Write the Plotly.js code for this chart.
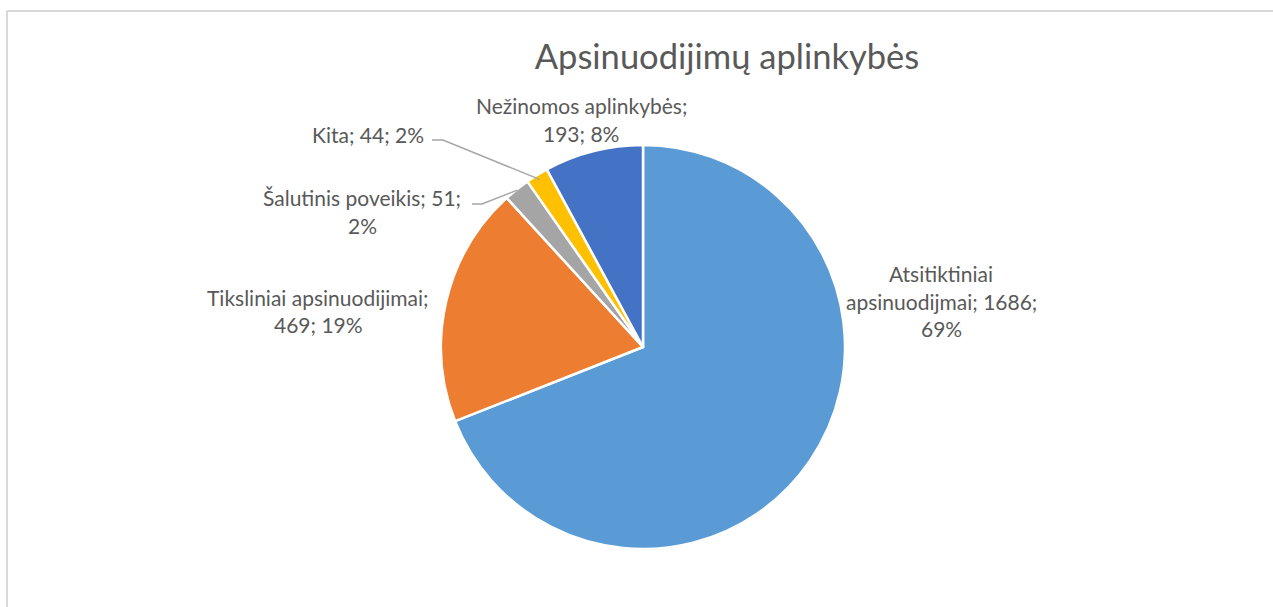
<!DOCTYPE html>
<html><head><meta charset="utf-8">
<script src="https://cdn.plot.ly/plotly-3.0.1.min.js"></script>
<style>html,body{margin:0;padding:0;background:#fff;} #chart{width:1273px;height:607px;}</style>
</head><body><div id="chart"></div>
<script>
// ---- data ----
const categories = ["Atsitiktiniai apsinuodijmai", "Tiksliniai apsinuodijimai", "Šalutinis poveikis", "Kita", "Nežinomos aplinkybės"];
const values = [1686, 469, 51, 44, 193];
const colors = ["#5B9BD5", "#ED7D31", "#A5A5A5", "#FFC000", "#4472C4"];
const titleText = "Apsinuodijimų aplinkybės";
const lineBreaks = [[0, 2], [1], [2], [], [1]]; // wrap after these word indices

// ---- layout helpers ----
const W = 1273, H = 607;
const px = x => x / W, py = y => 1 - y / H;
const cx = 643, cy = 347, R = 202;
const labelPos = [[941, 273], [318, 297], [362, 197], [368, 135], [581, 105]];
const lineGap = 28;
const textColor = "#595959";
const fontFam = "Lato, 'Open Sans', sans-serif";

const total = values.reduce((a, b) => a + b, 0);
const annotations = [];
categories.forEach((c, i) => {
  const pct = Math.round(values[i] / total * 100);
  const words = `${c}; ${values[i]}; ${pct}%`.split(" ");
  const lines = [];
  let cur = [];
  words.forEach((w, k) => {
    cur.push(w);
    if (lineBreaks[i].includes(k)) { lines.push(cur.join(" ")); cur = []; }
  });
  if (cur.length) lines.push(cur.join(" "));
  lines.forEach((ln, j) => {
    annotations.push({
      text: ln, showarrow: false, xref: "paper", yref: "paper",
      x: px(labelPos[i][0]), y: py(labelPos[i][1] + j * lineGap),
      xanchor: "center", yanchor: "middle",
      font: {family: fontFam, size: 21, color: textColor}
    });
  });
});

// leader lines for small slices
let cum = 0;
const mids = values.map(v => { const m = (cum + v / 2) / total; cum += v; return m; });
function edgePt(i, r) {
  const a = mids[i] * 2 * Math.PI;
  return [cx + r * Math.sin(a), cy - r * Math.cos(a)];
}
const leaders = [
  {i: 3, start: [432, 140], elbow: [443, 140], r: R - 5},
  {i: 2, start: [472, 204], elbow: [482, 204], r: R - 1}
];
const shapes = leaders.map(L => {
  const e = edgePt(L.i, L.r);
  return {
    type: "path", xref: "paper", yref: "paper",
    path: `M ${px(L.start[0])} ${py(L.start[1])} L ${px(L.elbow[0])} ${py(L.elbow[1])} L ${px(e[0])} ${py(e[1])}`,
    line: {color: "#A6A6A6", width: 1.5}
  };
});
// chart frame
shapes.push({type: "line", xref: "paper", yref: "paper", x0: px(7), x1: px(7), y0: py(11), y1: py(H + 5), line: {color: "#D9D9D9", width: 2}});
shapes.push({type: "line", xref: "paper", yref: "paper", x0: px(7), x1: px(W + 5), y0: py(11), y1: py(11), line: {color: "#D9D9D9", width: 2}});

const trace = {
  type: "pie",
  labels: categories,
  values: values,
  sort: false,
  direction: "clockwise",
  rotation: 0,
  textinfo: "none",
  textposition: "none",
  hoverinfo: "label+value+percent",
  marker: {colors: colors, line: {color: "#FFFFFF", width: 2.5}},
  domain: {x: [px(cx - R), px(cx + R)], y: [py(cy + R), py(cy - R)]},
  showlegend: false
};

const layout = {
  width: W, height: H,
  margin: {l: 0, r: 0, t: 0, b: 0},
  paper_bgcolor: "#FFFFFF",
  title: {text: titleText, x: px(727), xanchor: "center", y: py(57), yanchor: "middle",
          font: {family: fontFam, size: 34.5, color: textColor}},
  annotations: annotations,
  shapes: shapes,
  showlegend: false
};

Plotly.newPlot("chart", [trace], layout, {displayModeBar: false, staticPlot: true});
</script>
</body></html>
